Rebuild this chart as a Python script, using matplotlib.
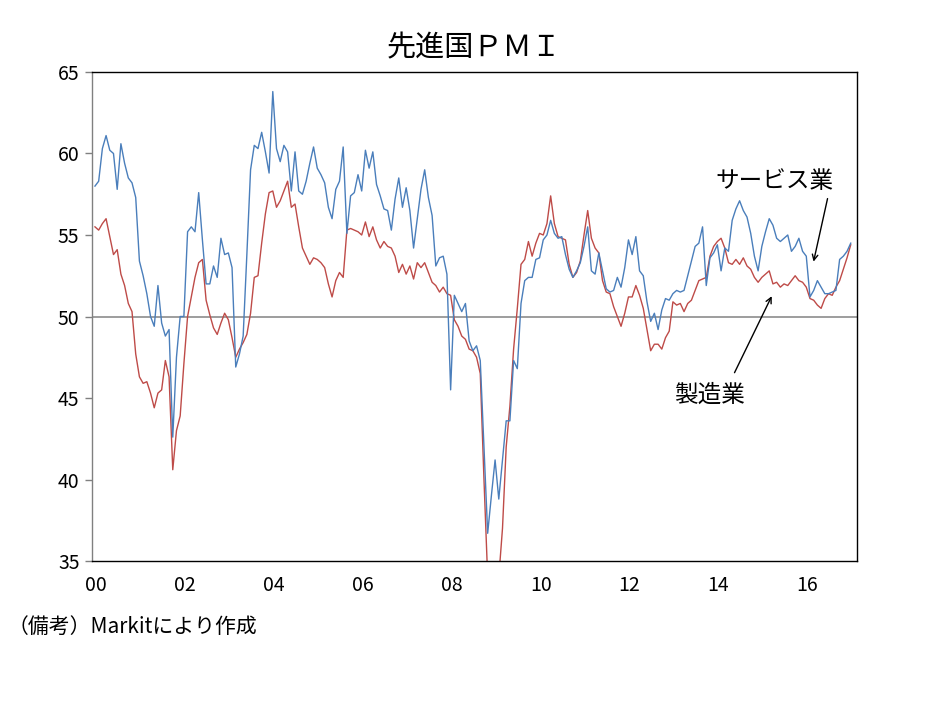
import numpy as np
import matplotlib
matplotlib.use("Agg")
import matplotlib.pyplot as plt

plt.rcParams['font.family'] = ['Noto Sans CJK JP', 'DejaVu Sans']

# monthly, Jan 2000 - Jan 2017
services = [
    58.0, 58.3, 60.3, 61.1, 60.2, 60.0, 57.8, 60.6, 59.4, 58.5, 58.2, 57.3,
    53.4, 52.5, 51.4, 50.0, 49.4, 51.9, 49.6, 48.8, 49.2, 42.6, 47.5, 50.0,
    50.0, 55.2, 55.5, 55.2, 57.6, 54.7, 52.0, 52.0, 53.1, 52.4, 54.8, 53.8,
    53.9, 53.0, 46.9, 47.7, 48.8, 53.8, 59.0, 60.5, 60.3, 61.3, 60.1, 58.8,
    63.8, 60.3, 59.5, 60.5, 60.1, 57.7, 60.1, 57.7, 57.5, 58.3, 59.4, 60.4,
    59.1, 58.7, 58.2, 56.7, 56.0, 57.8, 58.3, 60.4, 55.1, 57.4, 57.6, 58.7,
    57.7, 60.2, 59.1, 60.1, 58.1, 57.4, 56.6, 56.5, 55.3, 57.2, 58.5, 56.7,
    57.9, 56.5, 54.2, 56.0, 57.8, 59.0, 57.3, 56.2, 53.1, 53.6, 53.7, 52.6,
    45.5, 51.3, 50.8, 50.3, 50.8, 48.5, 47.9, 48.2, 47.3, 42.0, 36.7, 39.0,
    41.2, 38.8, 41.2, 43.6, 43.6, 47.3, 46.8, 50.8, 52.2, 52.4, 52.4, 53.5,
    53.6, 54.7, 55.0, 55.9, 55.1, 54.8, 54.9, 53.8, 52.9, 52.4, 52.8, 53.3,
    54.3, 55.5, 52.8, 52.6, 53.9, 52.8, 51.7, 51.5, 51.6, 52.4, 51.8, 53.0,
    54.7, 53.8, 54.9, 52.8, 52.5, 50.9, 49.7, 50.2, 49.2, 50.4, 51.1, 51.0,
    51.4, 51.6, 51.5, 51.6, 52.5, 53.4, 54.3, 54.5, 55.5, 51.9, 53.6, 53.9,
    54.4, 52.8, 54.2, 54.0, 55.9, 56.6, 57.1, 56.5, 56.1, 55.1, 53.7, 52.8,
    54.3, 55.2, 56.0, 55.6, 54.8, 54.6, 54.8, 55.0, 54.0, 54.3, 54.8, 54.0,
    53.7, 51.2, 51.6, 52.2, 51.8, 51.4, 51.4, 51.5, 51.6, 53.5, 53.7, 54.0,
    54.5,
]

manufacturing = [
    55.5, 55.3, 55.7, 56.0, 54.9, 53.8, 54.1, 52.6, 51.9, 50.8, 50.3, 47.7,
    46.3, 45.9, 46.0, 45.3, 44.4, 45.3, 45.5, 47.3, 46.3, 40.6, 43.0, 43.9,
    47.1, 50.0, 51.2, 52.4, 53.3, 53.5, 51.0, 50.1, 49.3, 48.9, 49.6, 50.2,
    49.8, 48.7, 47.5, 48.0, 48.4, 48.9, 50.2, 52.4, 52.5, 54.5, 56.3, 57.6,
    57.7, 56.7, 57.1, 57.7, 58.3, 56.7, 56.9, 55.5, 54.2, 53.7, 53.2, 53.6,
    53.5, 53.3, 53.0, 52.0, 51.2, 52.2, 52.7, 52.4, 55.3, 55.4, 55.3, 55.2,
    55.0, 55.8, 54.9, 55.5, 54.7, 54.2, 54.6, 54.3, 54.2, 53.7, 52.7, 53.2,
    52.6, 53.1, 52.3, 53.3, 53.0, 53.3, 52.7, 52.1, 51.9, 51.5, 51.8, 51.4,
    51.3, 49.8, 49.4, 48.8, 48.6, 48.0, 47.9, 47.5, 46.5, 40.0, 34.0, 33.0,
    33.5, 34.0, 37.0, 42.0, 44.5, 48.0, 50.5, 53.2, 53.5, 54.6, 53.7, 54.5,
    55.1, 55.0, 55.7, 57.4, 55.7, 54.9, 54.8, 54.7, 53.2, 52.4, 52.7, 53.4,
    55.0, 56.5, 54.8, 54.2, 53.9, 52.2, 51.5, 51.4, 50.6, 50.0, 49.4, 50.2,
    51.2, 51.2, 51.9, 51.3, 50.5, 49.2, 47.9, 48.3, 48.3, 48.0, 48.7, 49.1,
    50.9, 50.7, 50.8, 50.3, 50.8, 51.0, 51.6, 52.2, 52.3, 52.4, 53.7, 54.3,
    54.6, 54.8, 54.2, 53.3, 53.2, 53.5, 53.2, 53.6, 53.1, 52.9, 52.4, 52.1,
    52.4, 52.6, 52.8, 52.0, 52.1, 51.8, 52.0, 51.9, 52.2, 52.5, 52.2, 52.1,
    51.8, 51.1, 51.0, 50.7, 50.5, 51.1, 51.4, 51.3, 51.8, 52.2, 52.9, 53.6,
    54.4,
]

year_labels = ['00', '02', '04', '06', '08', '10', '12', '14', '16']

months = np.arange(len(services))

fig = plt.figure(figsize=(9.34, 7.01), dpi=100)
ax = fig.add_axes([0.0985, 0.1997, 0.8191, 0.6976])

ax.axhline(50, color='#8c8c8c', lw=1.2, zorder=1)
ax.plot(months, services, color='#4a7ebb', lw=1.0, zorder=3)
ax.plot(months, manufacturing, color='#be4b48', lw=1.0, zorder=2)

ax.set_xlim(-0.8, 205.7)
ax.set_ylim(35, 65)
ax.set_yticks(range(35, 66, 5))
ax.set_xticks(np.arange(len(year_labels)) * 24 + 0.3)
ax.set_xticklabels(year_labels)
ax.tick_params(axis='x', length=0, pad=10, labelsize=14)
ax.tick_params(axis='y', length=5, width=1, color='#808080', labelsize=14, pad=4)

for side in ['top', 'right', 'bottom']:
    ax.spines[side].set_color('black')
    ax.spines[side].set_linewidth(1.0)
ax.spines['left'].set_color('#808080')
ax.spines['left'].set_linewidth(1.0)

fig.text(0.508, 0.931, '先進国ＰＭＩ', ha='center', va='center', fontsize=21)

ax.text(183.3, 58.3, 'サービス業', ha='center', va='center', fontsize=17)
ax.annotate('', xy=(193.8, 53.2), xytext=(197.9, 57.4),
            arrowprops=dict(arrowstyle='->', color='black', lw=1.0))
ax.text(166.0, 45.15, '製造業', ha='center', va='center', fontsize=17)
ax.annotate('', xy=(183.0, 51.4), xytext=(172.3, 46.4),
            arrowprops=dict(arrowstyle='->', color='black', lw=1.0))

fig.text(0.008, 0.105, '（備考）Markitにより作成', ha='left', va='center', fontsize=15)

fig.savefig('out.png', dpi=100)
